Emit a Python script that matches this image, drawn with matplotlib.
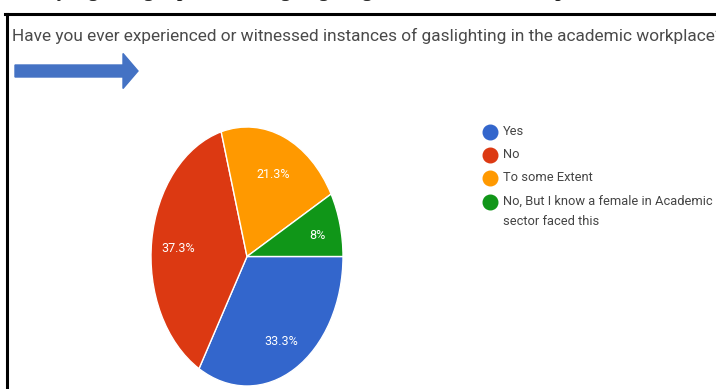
import numpy as np
import matplotlib.pyplot as plt
from matplotlib.patches import FancyArrow

# data
labels = ["Yes", "No", "To some Extent", "No, But I know a female in Academic\nsector faced this"]
shares = [33.3, 37.3, 21.3, 8.0]
pct_labels = ["33.3%", "37.3%", "21.3%", "8%"]
colors = ["#3366cc", "#dc3912", "#ff9900", "#109618"]

title = "Have you ever experienced or witnessed instances of gaslighting in the academic workplace?"
caption = "Survey regarding experiences of gaslighting in the academic workplace"

W, H = 716, 389
fig = plt.figure(figsize=(W / 100, H / 100), dpi=100)
fig.patch.set_facecolor("white")


def fx(px):
    return px / W


def fy(py):
    return 1 - py / H


# clipped caption line of the page above the screenshot
fig.text(fx(8), fy(-2.8), caption, family="Liberation Serif", weight="bold",
         fontsize=14, color="#222222", va="baseline", ha="left")

# frame of the screenshot (top and left edges only visible)
fig.add_artist(plt.Line2D([fx(5), 1.0], [fy(14), fy(14)], color="black", lw=2.2))
fig.add_artist(plt.Line2D([fx(7), fx(7)], [fy(14), 0.0], color="black", lw=2.2))

# question title
fig.text(fx(12), fy(36), title, family="Roboto", fontsize=12.4, color="#4a4a4a",
         va="center", ha="left")

# blue arrow under the title
arrow = FancyArrow(fx(15), fy(71), fx(108), 0, width=12 / H, head_width=35 / H,
                   head_length=fx(15), length_includes_head=False,
                   color="#4472c4", transform=fig.transFigure)
fig.add_artist(arrow)

# pie drawn in a stretched axes so it becomes an ellipse
ax = fig.add_axes([fx(151), fy(386), fx(343) - fx(151), fy(127) - fy(386)])
wedges, texts = ax.pie(shares, colors=colors, startangle=0, counterclock=False,
                       wedgeprops=dict(edgecolor="white", linewidth=1))
ax.set_aspect("auto")
ax.set_xlim(-1, 1)
ax.set_ylim(-1, 1)
start = 0.0
for w, lab in zip(shares, pct_labels):
    mid = np.deg2rad(start - w * 3.6 / 2)
    start -= w * 3.6
    r = 0.72 if w > 10 else 0.76
    ax.text(r * np.cos(mid), r * np.sin(mid) - 0.03, lab, color="white",
            fontsize=9, family="Roboto", ha="center", va="center")

# legend drawn by hand so the marker sits on the first line
leg_y = [132, 155, 178, 202]
for lab, c, y in zip(labels, colors, leg_y):
    fig.add_artist(plt.Line2D([fx(490)], [fy(y)], marker="o", markersize=10.5,
                              color=c, linestyle="none"))
    fig.text(fx(503), fy(y - 7), lab, family="Roboto", fontsize=9.3,
             color="#444444", va="top", ha="left", linespacing=1.75)

fig.savefig("out.png", dpi=100, facecolor="white")
